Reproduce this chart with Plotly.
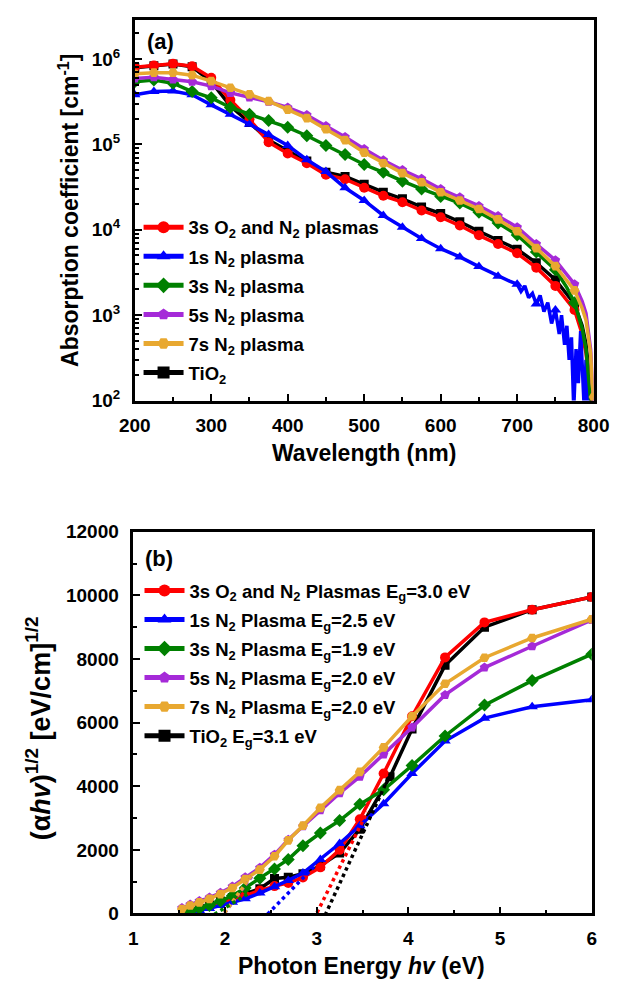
import plotly.graph_objects as go

W, H = 641, 993

# ---------------- Panel (a): absorption coefficient vs wavelength ----------------
wl_red = [200, 225, 250, 275, 300, 325, 350, 375, 400, 425, 450, 475, 500, 525, 550, 575,
          600, 625, 650, 675, 700, 725, 750, 775, 785, 790, 795, 798]
a_red = [8.0e5, 8.4e5, 8.8e5, 8.2e5, 6.0e5, 3.3e5, 1.96e5, 1.06e5, 7.8e4, 6.0e4, 4.4e4, 3.9e4,
         3.1e4, 2.5e4, 2.1e4, 1.68e4, 1.4e4, 1.12e4, 8.6e3, 6.8e3, 5.3e3, 3.6e3, 2.2e3, 1.15e3,
         6.0e2, 3.6e2, 1.3e2, 8.0e1]

wl_blk = [200, 225, 250, 275, 300, 325, 350, 375, 400, 425, 450, 475, 500, 525, 550, 575,
          600, 625, 650, 675, 700, 725, 750, 775, 785, 790, 795, 798]
a_blk = [7.9e5, 8.3e5, 8.7e5, 8.1e5, 5.4e5, 2.8e5, 1.8e5, 1.12e5, 8.4e4, 6.4e4, 4.7e4, 4.2e4,
         3.4e4, 2.75e4, 2.3e4, 1.85e4, 1.55e4, 1.24e4, 9.6e3, 7.5e3, 5.9e3, 4.1e3, 2.6e3, 1.35e3,
         7.5e2, 4.6e2, 1.8e2, 9.0e1]

wl_blu = [200, 225, 250, 275, 300, 325, 350, 375, 400, 425, 450, 475, 500, 525, 550, 575,
          600, 625, 650, 675, 690, 700, 705, 710, 715, 720, 725, 730, 735, 740, 745, 750,
          755, 758, 762, 765, 768, 771, 774, 777, 780, 783, 786, 788, 790, 793]
a_blu = [3.8e5, 4.15e5, 4.2e5, 3.8e5, 2.9e5, 2.25e5, 1.72e5, 1.3e5, 9.7e4, 6.6e4, 4.8e4, 3.1e4,
         2.2e4, 1.47e4, 1.07e4, 7.9e3, 6.0e3, 4.8e3, 3.7e3, 2.85e3, 2.5e3, 2.3e3, 1.9e3, 2.2e3,
         1.6e3, 1.8e3, 1.35e3, 1.7e3, 1.1e3, 1.4e3, 8.0e2, 1.15e3, 6.0e2, 1.0e3, 4.5e2, 7.5e2,
         3.0e2, 5.5e2, 8.0e1, 4.0e2, 1.6e2, 6.5e2, 2.0e2, 7.0e1, 3.0e2, 8.0e1]

wl_grn = [200, 225, 250, 275, 300, 325, 350, 375, 400, 425, 450, 475, 500, 525, 550, 575,
          600, 625, 650, 675, 700, 725, 750, 765, 775, 785, 790, 794, 797]
a_grn = [5.4e5, 5.65e5, 5.2e5, 4.15e5, 3.5e5, 2.7e5, 2.25e5, 1.9e5, 1.58e5, 1.26e5, 9.7e4, 7.6e4,
         5.8e4, 4.7e4, 3.7e4, 3.0e4, 2.45e4, 2.05e4, 1.6e4, 1.2e4, 8.7e3, 5.5e3, 3.4e3, 2.1e3,
         1.4e3, 7.0e2, 4.0e2, 1.6e2, 8.0e1]

wl_pur = [200, 225, 250, 275, 300, 325, 350, 375, 400, 425, 450, 475, 500, 525, 550, 575,
          600, 625, 650, 675, 700, 725, 750, 775, 785, 790, 796, 799, 800]
a_pur = [5.9e5, 6.1e5, 5.75e5, 5.4e5, 4.8e5, 4.0e5, 3.55e5, 3.15e5, 2.7e5, 2.2e5, 1.64e5, 1.22e5,
         8.8e4, 6.5e4, 5.0e4, 3.95e4, 3.0e4, 2.4e4, 1.9e4, 1.45e4, 1.07e4, 6.8e3, 4.4e3, 2.3e3,
         1.45e3, 1.05e3, 4.0e2, 1.3e2, 9.0e1]

wl_org = [200, 225, 250, 275, 300, 325, 350, 375, 400, 425, 450, 475, 500, 525, 550, 575,
          600, 625, 650, 675, 700, 725, 750, 775, 785, 790, 796, 798, 800]
a_org = [6.7e5, 6.9e5, 6.9e5, 6.45e5, 5.5e5, 4.6e5, 3.85e5, 3.2e5, 2.55e5, 2.03e5, 1.5e5, 1.12e5,
         8.0e4, 6.0e4, 4.6e4, 3.6e4, 2.75e4, 2.2e4, 1.75e4, 1.32e4, 9.6e3, 6.1e3, 3.75e3, 1.95e3,
         1.2e3, 8.7e2, 3.6e2, 1.6e2, 1.1e2]

names_a = ["3s O<sub>2</sub> and N<sub>2</sub> plasmas", "1s N<sub>2</sub> plasma",
           "3s N<sub>2</sub> plasma", "5s N<sub>2</sub> plasma", "7s N<sub>2</sub> plasma",
           "TiO<sub>2</sub>"]

# ---------------- Panel (b): Tauc plot ----------------
E_red = [1.55, 1.62, 1.72, 1.83, 1.95, 2.08, 2.22, 2.38, 2.54, 2.69, 2.85, 3.04, 3.25, 3.47, 3.73,
         4.04, 4.40, 4.83, 5.35, 6.00]
t_red = [10, 60, 150, 250, 360, 450, 560, 720, 860, 960, 1130, 1450, 2000, 2960, 4400,
         6200, 8050, 9150, 9550, 9950]

E_blk = [1.55, 1.62, 1.72, 1.83, 1.95, 2.08, 2.22, 2.38, 2.54, 2.69, 2.85, 3.04, 3.25, 3.47, 3.80,
         4.04, 4.40, 4.83, 5.35, 6.00]
t_blk = [10, 60, 160, 270, 390, 500, 620, 780, 1100, 1140, 1250, 1500, 1900, 2650, 4300,
         5800, 7800, 9000, 9550, 9950]

E_blu = [1.58, 1.62, 1.72, 1.83, 1.95, 2.08, 2.22, 2.38, 2.54, 2.69, 2.85, 3.04, 3.25, 3.47, 3.73,
         4.04, 4.40, 4.83, 5.35, 6.00]
t_blu = [10, 30, 90, 160, 250, 350, 460, 640, 840, 1040, 1270, 1700, 2200, 2760, 3450,
         4400, 5420, 6140, 6500, 6720]

E_grn = [1.58, 1.62, 1.72, 1.83, 1.95, 2.08, 2.22, 2.38, 2.54, 2.69, 2.85, 3.04, 3.25, 3.47, 3.73,
         4.04, 4.40, 4.83, 5.35, 6.00]
t_grn = [20, 60, 160, 250, 390, 560, 800, 1110, 1400, 1700, 2130, 2530, 2920, 3430, 3890,
         4650, 5580, 6550, 7320, 8150]

E_pur = [1.53, 1.62, 1.72, 1.83, 1.95, 2.08, 2.22, 2.38, 2.54, 2.69, 2.85, 3.04, 3.25, 3.47, 3.73,
         4.04, 4.40, 4.83, 5.35, 6.00]
t_pur = [170, 280, 390, 500, 650, 850, 1140, 1440, 1850, 2320, 2740, 3250, 3780, 4300, 5000,
         5850, 6870, 7730, 8400, 9230]

E_org = [1.53, 1.62, 1.72, 1.83, 1.95, 2.08, 2.22, 2.38, 2.54, 2.69, 2.85, 3.04, 3.25, 3.47, 3.73,
         4.04, 4.40, 4.83, 5.35, 6.00]
t_org = [140, 250, 350, 460, 610, 800, 1080, 1380, 1800, 2300, 2760, 3320, 3880, 4450, 5220,
         6200, 7220, 8040, 8660, 9250]

# tangent (band-gap extrapolation) segments: [start, end]
tan_E_red = [2.97, 3.55];  tan_t_red = [-170, 3190]
tan_E_blk = [3.06, 3.80];  tan_t_blk = [-250, 4375]
tan_E_blu = [2.41, 2.97];  tan_t_blu = [-180, 1470]
tan_E_grn = [1.69, 2.25];  tan_t_grn = [-370, 620]
tan_E_pur = [1.95, 2.30];  tan_t_pur = [-160, 1200]
tan_E_org = [1.95, 2.30];  tan_t_org = [-160, 1240]

names_b = ["3s O<sub>2</sub> and N<sub>2</sub> Plasmas E<sub>g</sub>=3.0 eV",
           "1s N<sub>2</sub> Plasma E<sub>g</sub>=2.5 eV",
           "3s N<sub>2</sub> Plasma E<sub>g</sub>=1.9 eV",
           "5s N<sub>2</sub> Plasma E<sub>g</sub>=2.0 eV",
           "7s N<sub>2</sub> Plasma E<sub>g</sub>=2.0 eV",
           "TiO<sub>2</sub> E<sub>g</sub>=3.1 eV"]

# ---------------- styling ----------------
C_RED, C_BLU, C_GRN, C_PUR, C_ORG, C_BLK = "#FF0000", "#0000FF", "#008000", "#A52AD8", "#E8A830", "#000000"
FONT = "Liberation Sans, Arial, sans-serif"

fig = go.Figure()

# order of drawing (bottom -> top) and legend rank
series_a = [
    (wl_blk, a_blk, C_BLK, "square", names_a[5], 6, 9),
    (wl_red, a_red, C_RED, "circle", names_a[0], 1, 10),
    (wl_blu, a_blu, C_BLU, "triangle-up", names_a[1], 2, 10),
    (wl_grn, a_grn, C_GRN, "diamond", names_a[2], 3, 10),
    (wl_pur, a_pur, C_PUR, "pentagon", names_a[3], 4, 10),
    (wl_org, a_org, C_ORG, "hexagon2", names_a[4], 5, 10),
]
for wl, a, col, sym, nm, rank, msz in series_a:
    fig.add_trace(go.Scatter(x=wl, y=a, mode="lines", line=dict(color=col, width=3.5),
                             showlegend=False, xaxis="x", yaxis="y", hoverinfo="skip"))
    mx = [w for w in wl if w % 25 == 0]
    my = [v for w, v in zip(wl, a) if w % 25 == 0]
    fig.add_trace(go.Scatter(x=mx, y=my, mode="markers",
                             marker=dict(color=col, symbol=sym, size=msz, line=dict(width=0)),
                             showlegend=False, xaxis="x", yaxis="y"))
    fig.add_trace(go.Scatter(x=[None], y=[None], mode="lines+markers", name=nm,
                             line=dict(color=col, width=3.5),
                             marker=dict(color=col, symbol=sym, size=10),
                             legend="legend", legendrank=rank, legendgroup="a%d" % rank,
                             xaxis="x", yaxis="y"))

series_b = [
    (E_blk, t_blk, C_BLK, "square", names_b[5], 6, 9),
    (E_red, t_red, C_RED, "circle", names_b[0], 1, 10),
    (E_blu, t_blu, C_BLU, "triangle-up", names_b[1], 2, 10),
    (E_grn, t_grn, C_GRN, "diamond", names_b[2], 3, 10),
    (E_pur, t_pur, C_PUR, "pentagon", names_b[3], 4, 10),
    (E_org, t_org, C_ORG, "hexagon2", names_b[4], 5, 10),
]
for E, t, col, sym, nm, rank, msz in series_b:
    fig.add_trace(go.Scatter(x=E, y=t, mode="lines+markers", name=nm,
                             line=dict(color=col, width=3.5),
                             marker=dict(color=col, symbol=sym, size=msz, line=dict(width=0)),
                             legend="legend2", legendrank=rank, legendgroup="b%d" % rank,
                             xaxis="x2", yaxis="y2"))

tangents = [
    (tan_E_pur, tan_t_pur, C_PUR), (tan_E_org, tan_t_org, C_ORG), (tan_E_grn, tan_t_grn, C_GRN),
    (tan_E_blu, tan_t_blu, C_BLU), (tan_E_red, tan_t_red, C_RED), (tan_E_blk, tan_t_blk, C_BLK),
]
for E, t, col in tangents:
    fig.add_trace(go.Scatter(x=E, y=t, mode="lines", line=dict(color=col, width=3.5, dash="dot"),
                             showlegend=False, xaxis="x2", yaxis="y2", hoverinfo="skip"))


def px_x(p):
    return p / W


def px_y(p):
    return 1 - p / H


common_axis = dict(showline=True, linecolor="black", linewidth=2.5, mirror=True,
                   ticks="inside", tickcolor="black", tickwidth=2, showgrid=False,
                   zeroline=False)

fig.update_layout(
    width=W, height=H,
    margin=dict(l=0, r=0, t=0, b=0),
    paper_bgcolor="white", plot_bgcolor="white",
    font=dict(family=FONT, size=19, color="black", weight="bold"),
    xaxis=dict(domain=[px_x(125), px_x(608)], anchor="y", range=[200, 800], dtick=100,
               ticklen=7, tickfont=dict(size=19), ticklabelstandoff=6,
               minor=dict(ticks="inside", dtick=50, ticklen=4, tickwidth=1.5, tickcolor="black"),
               **common_axis),
    yaxis=dict(domain=[px_y(399), px_y(10)], anchor="x", type="log", range=[2, 6.458],
               tickvals=[1e2, 1e3, 1e4, 1e5, 1e6],
               ticktext=["10<sup>2</sup>", "10<sup>3</sup>", "10<sup>4</sup>", "10<sup>5</sup>", "10<sup>6</sup>"],
               ticklen=7, tickfont=dict(size=19), ticklabelstandoff=8,
               minor=dict(ticks="inside", dtick="D1", ticklen=4, tickwidth=1.5, tickcolor="black"),
               **common_axis),
    xaxis2=dict(domain=[px_x(123.5), px_x(606)], anchor="y2", range=[1, 6], dtick=1,
                ticklen=7, tickfont=dict(size=19), ticklabelstandoff=6,
                minor=dict(ticks="inside", dtick=0.5, ticklen=4, tickwidth=1.5, tickcolor="black"),
                **common_axis),
    yaxis2=dict(domain=[px_y(923), px_y(533)], anchor="x2", range=[0, 12000], dtick=2000,
                tickformat="d",
                ticklen=7, tickfont=dict(size=19), ticklabelstandoff=8,
                minor=dict(ticks="inside", dtick=1000, ticklen=4, tickwidth=1.5, tickcolor="black"),
                **common_axis),
    legend=dict(x=px_x(129), y=px_y(203), xanchor="left", yanchor="top",
                bgcolor="rgba(0,0,0,0)", font=dict(size=18.5), tracegroupgap=2,
                itemsizing="constant", itemwidth=40),
    legend2=dict(x=px_x(130), y=px_y(574), xanchor="left", yanchor="top",
                 bgcolor="rgba(0,0,0,0)", font=dict(size=18.5), tracegroupgap=2,
                 itemsizing="constant", itemwidth=40),
    showlegend=True,
)

ann_font = dict(family=FONT, color="black", weight="bold")
annotations = [
    dict(text="Wavelength (nm)", x=px_x(366), y=px_y(453), font=dict(size=23, **ann_font)),
    dict(text="Absorption coefficient [cm<sup>-1</sup>]", x=px_x(55), y=px_y(205), textangle=-90,
         font=dict(size=23, **ann_font)),
    dict(text="Photon Energy <i>hv</i> (eV)", x=px_x(364), y=px_y(977), font=dict(size=23, **ann_font)),
    dict(text="(α<i>hv</i>)<sup>1/2</sup> [eV/cm]<sup>1/2</sup>", x=px_x(24), y=px_y(734),
         textangle=-90, font=dict(size=27, **ann_font)),
    dict(text="(a)", x=px_x(152), y=px_y(32), font=dict(size=22, **ann_font)),
    dict(text="(b)", x=px_x(150), y=px_y(560), font=dict(size=22, **ann_font)),
]
for a in annotations:
    a.update(xref="paper", yref="paper", showarrow=False, xanchor="center", yanchor="middle")
fig.update_layout(annotations=annotations)

fig.write_html("out.html")
